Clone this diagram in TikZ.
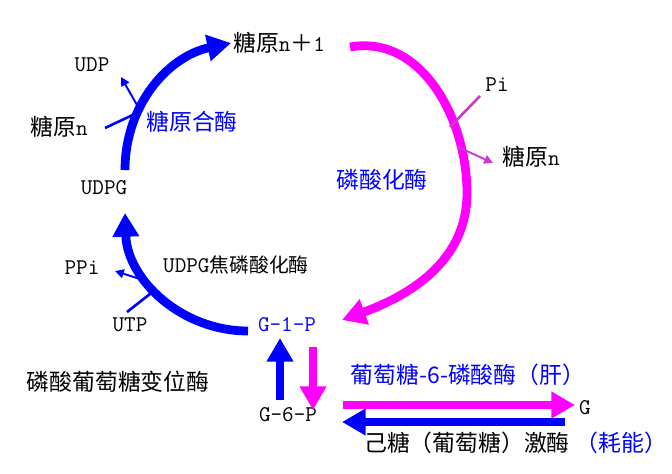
\documentclass[tikz,border=0pt]{standalone}
\usepackage{fontspec}
\setmainfont{Noto Sans CJK SC}
\usetikzlibrary{arrows.meta}
\definecolor{pmag}{RGB}{255,0,255}
\definecolor{pline}{RGB}{200,60,200}
\newcommand{\zh}{\fontsize{13}{15}\selectfont}
\newcommand{\la}{\ttfamily\fontsize{12.8}{14}\selectfont}

\begin{document}
\begin{tikzpicture}[x=0.02cm,y=0.02cm,inner sep=0pt,
  bigarr/.style={line width=5pt,-{Triangle[length=13.5pt,width=14.5pt]}},
  hookline/.style={line width=1.5pt},
  smallarr/.style={line width=1.1pt,-{Triangle[length=5pt,width=5pt]}}]

\useasboundingbox (0,0) rectangle (672,-473);

\node[font=\zh] (glyn1) at (279,-43) {糖原{\la n}＋{\la 1}};
\node[font=\la] (udp) at (92,-65) {UDP};
\node[font=\zh] (glynL) at (59,-127) {糖原{\la n}};
\node[font=\zh,blue] (gsyn) at (192,-122) {糖原合酶};
\node[font=\la] (udpg) at (104,-188) {UDPG};
\node[font=\la] (pi) at (497,-85) {Pi};
\node[font=\zh] (glynR) at (531,-157) {糖原{\la n}};
\node[font=\zh,blue] (phos) at (382,-180) {磷酸化酶};
\node[font=\fontsize{11.3}{13}\selectfont] (udpgase) at (236,-265) {{\la UDPG}焦磷酸化酶};
\node[font=\la] (ppi) at (82,-268) {PPi};
\node[font=\la] (utp) at (130,-325) {UTP};
\node[font=\la,blue] (g1p) at (287,-325) {G-1-P};
\node[font=\zh] (pgm) at (118,-382) {磷酸葡萄糖变位酶};
\node[font=\zh,blue] (g6pase) at (468,-375) {葡萄糖-6-磷酸酶（肝）};
\node[font=\la] (g6p) at (288,-415) {G-6-P};
\node[font=\la] (g) at (585,-408) {G};
\node[font=\zh] (hk) at (467,-443) {己糖（葡萄糖）激酶};
\node[font=\zh,blue,anchor=west,xshift=3pt] (cost) at (hk.east) {（耗能）};

\coordinate (udpgTop) at (125,-170);
\coordinate (udpgBot) at (125,-213);
\coordinate (glynEnd) at (350,-47);
\coordinate (phR) at (467,-193);
\coordinate (g1pL) at (248,-331);
\coordinate (g1pR) at (342,-320);
\coordinate (upS) at (280,-400);
\coordinate (upE) at (280,-338);
\coordinate (dnS) at (313,-347);
\coordinate (dnE) at (313,-410);
\coordinate (rtS) at (343,-405);
\coordinate (rtE) at (575,-405);
\coordinate (ltS) at (565,-422);
\coordinate (ltE) at (342,-422);

\draw[blue,bigarr] (udpgTop) to[out=90,in=192] ([xshift=-1pt]glyn1.west);
\draw[pmag,bigarr] (glynEnd) to[out=10,in=90] (phR) to[out=-90,in=20] (g1pR);
\draw[blue,bigarr] (g1pL) to[out=180,in=-88] (udpgBot);

\draw[blue,bigarr,line width=4.5pt] (upS) -- (upE);
\draw[pmag,bigarr,line width=4.5pt] (dnS) -- (dnE);
\draw[pmag,bigarr,line width=4.5pt] (rtS) -- (rtE);
\draw[blue,bigarr,line width=4.5pt] (ltS) -- (ltE);

\coordinate (glynLe) at (105,-128);
\coordinate (gsIn) at (137,-113);
\coordinate (gsOut) at (137,-105);
\coordinate (udpTip) at (121,-77);
\draw[blue,hookline] (glynLe) -- (gsIn);
\draw[blue,smallarr] (gsOut) -- (udpTip);

\coordinate (utpE) at (127,-312);
\coordinate (ugIn) at (155,-290);
\coordinate (ugOut) at (143,-280);
\coordinate (ppiTip) at (115,-271);
\draw[blue,hookline] (utpE) -- (ugIn);
\draw[blue,smallarr] (ugOut) -- (ppiTip);

\coordinate (piE) at (480,-96);
\coordinate (phIn) at (450,-127);
\coordinate (phOut) at (458,-147);
\coordinate (glynRTip) at (493,-163);
\draw[pline,hookline] (piE) -- (phIn);
\draw[pline,smallarr] (phOut) -- (glynRTip);
\end{tikzpicture}
\end{document}
